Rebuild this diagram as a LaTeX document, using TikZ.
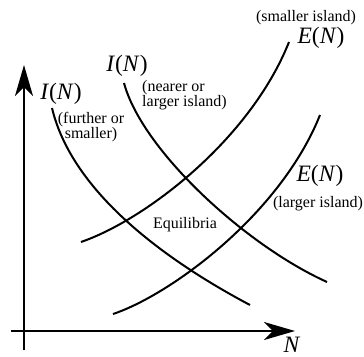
\documentclass[tikz,border=0pt]{standalone}
\usepackage{fontspec}
\setmainfont{Liberation Serif}
\usetikzlibrary{arrows.meta}
\tikzset{
  axis/.style={line width=2.4pt,-{Stealth[length=31pt,width=18pt,inset=9pt]}},
  curve/.style={line width=2pt},
  small/.style={font=\fontsize{16}{15}\selectfont,inner sep=0pt,align=center},
  big/.style={font=\fontsize{23.5}{23.5}\selectfont,inner sep=0pt,anchor=base}
}
\begin{document}
\begin{tikzpicture}[x=1pt,y=-1pt]
\useasboundingbox (0,0) rectangle (364,356);
% axes
\coordinate (yb) at (24,350);
\coordinate (yt) at (24,65);
\coordinate (xl) at (11,331);
\coordinate (xr) at (295,331);
\draw[axis] (yb) -- (yt);
\draw[axis] (xl) -- (xr);
% curves
\coordinate (a0) at (52,108);  \coordinate (a1) at (250,305);
\coordinate (b0) at (124,83);  \coordinate (b1) at (327,282);
\coordinate (c0) at (81,242);  \coordinate (c1) at (289,42);
\coordinate (d0) at (113,314); \coordinate (d1) at (320,115);
\draw[curve] (a0) .. controls (72,192) and (165,260) .. (a1);
\draw[curve] (b0) .. controls (142,150) and (245,245) .. (b1);
\draw[curve] (c0) .. controls (145,220) and (250,140) .. (c1);
\draw[curve] (d0) .. controls (170,295) and (280,215) .. (d1);
% labels
\node[big] (i1) at (61,99) {\textit{I}(\textit{N})};
\node[small] (i1t) at (91,127.5) {(further or\\smaller)};
\node[big] (i2) at (127,71) {\textit{I}(\textit{N})};
\node[small,align=left,anchor=west] (i2t) at (142,95.5) {(nearer or\\larger island)};
\node[small,anchor=base] (e1t) at (306,21.5) {(smaller island)};
\node[big] (e1) at (321,43.5) {\textit{E}(\textit{N})};
\node[big] (e2) at (320,181) {\textit{E}(\textit{N})};
\node[small,anchor=base] (e2t) at (318,207) {(larger island)};
\node[small,anchor=base] (eq) at (185,228) {Equilibria};
\node[big] (n) at (292,352) {\textit{N}};
\end{tikzpicture}
\end{document}
